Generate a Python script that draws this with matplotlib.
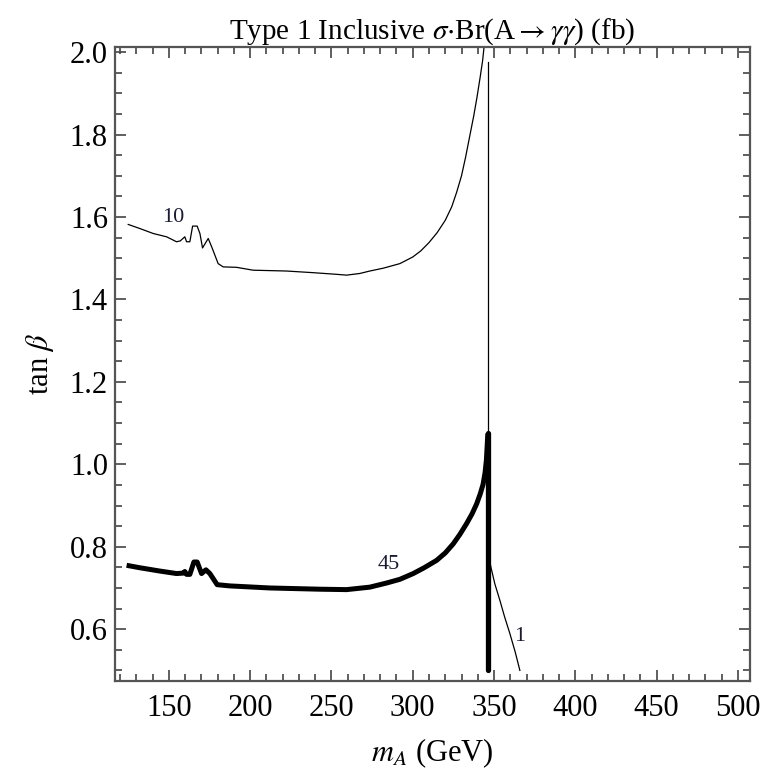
import matplotlib
matplotlib.use("Agg")
import matplotlib.pyplot as plt
from matplotlib.ticker import MultipleLocator

plt.rcParams['font.family'] = ['Liberation Serif', 'DejaVu Serif']
plt.rcParams['mathtext.fontset'] = 'stix'

# contour "10" (thin)
mA_10 = [125.0, 132.2, 140.4, 148.6, 154.7, 157.0, 159.8, 160.9, 162.9, 164.6, 167.4,
         169.1, 170.7, 174.2, 176.3, 180.3, 183.4, 191.6, 201.8, 222.3, 238.7, 253.1,
         259.3, 267.4, 273.6, 282.0, 292.1, 300.0, 305.0, 310.0, 315.0, 320.0, 324.0,
         327.0, 330.0, 332.5, 335.0, 337.5, 339.5, 341.5, 343.0, 343.8]
tb_10 = [1.582, 1.572, 1.560, 1.552, 1.540, 1.542, 1.552, 1.540, 1.540, 1.578, 1.578,
         1.560, 1.525, 1.548, 1.528, 1.487, 1.479, 1.478, 1.471, 1.469, 1.465, 1.461,
         1.459, 1.463, 1.469, 1.476, 1.487, 1.503, 1.518, 1.538, 1.562, 1.592, 1.625,
         1.660, 1.700, 1.745, 1.795, 1.845, 1.890, 1.940, 1.980, 2.010]

# contour "45" (thick)
mA_45 = [124.0, 132.2, 144.5, 154.7, 158.8, 159.8, 160.9, 162.9, 165.4, 167.4, 170.1,
         172.8, 175.2, 179.7, 187.5, 212.1, 242.9, 259.3, 273.6, 283.9, 292.1, 300.3,
         307.0, 314.7, 320.0, 324.9, 329.0, 333.1, 336.5, 339.3, 341.5, 343.3, 344.5,
         345.3, 346.2]
tb_45 = [0.755, 0.749, 0.741, 0.735, 0.736, 0.740, 0.733, 0.733, 0.763, 0.763, 0.735,
         0.744, 0.735, 0.708, 0.705, 0.700, 0.697, 0.696, 0.702, 0.712, 0.721, 0.735,
         0.749, 0.767, 0.785, 0.807, 0.830, 0.856, 0.880, 0.904, 0.928, 0.952, 0.980,
         1.010, 1.075]
mA_45v = [346.2, 346.2]
tb_45v = [1.075, 0.500]

# contour "1" (thin)
mA_1v = [346.0, 346.0]
tb_1v = [1.975, 0.500]
mA_1 = [346.0, 348.0, 350.5, 353.6, 356.5, 359.7, 363.0, 365.9]
tb_1 = [0.800, 0.752, 0.710, 0.670, 0.630, 0.590, 0.545, 0.500]

fig = plt.figure(figsize=(7.66, 7.74), dpi=100)
ax = fig.add_axes([0.150, 0.120, 0.829, 0.819])

ax.plot(mA_10, tb_10, color='black', lw=0.9)
ax.plot(mA_1v, tb_1v, color='black', lw=0.9)
ax.plot(mA_1, tb_1, color='black', lw=0.9)
ax.plot(mA_45, tb_45, color='black', lw=3.6, solid_capstyle='butt',
        solid_joinstyle='round')
ax.plot(mA_45v, tb_45v, color='black', lw=3.8, solid_capstyle='round')

lab_col = '#1a1a33'
ax.text(152.5, 1.600, '10', fontsize=16, color=lab_col, ha='center', va='center')
ax.text(285.5, 0.757, '45', fontsize=16, color=lab_col, ha='center', va='center')
ax.text(365.5, 0.582, '1', fontsize=16, color=lab_col, ha='center', va='center')

ax.set_xlim(116.8, 507.4)
ax.set_ylim(0.474, 2.012)
ax.xaxis.set_major_locator(MultipleLocator(50))
ax.xaxis.set_minor_locator(MultipleLocator(10))
ax.yaxis.set_major_locator(MultipleLocator(0.2))
ax.yaxis.set_minor_locator(MultipleLocator(0.05))
ax.yaxis.set_major_formatter(plt.FormatStrFormatter('%.1f'))

ax.tick_params(which='both', direction='in', top=True, right=True,
               color='#444444', width=1.2, labelsize=22)
ax.tick_params(which='major', length=8, pad=9)
ax.tick_params(which='minor', length=5)
ax.tick_params(axis='y', pad=5)
for s in ax.spines.values():
    s.set_color('#555555')
    s.set_linewidth(1.6)

ax.set_title(r'Type 1 Inclusive $\sigma$$\cdot$Br(A$\rightarrow\gamma\gamma$) (fb)',
             fontsize=21, pad=6)
ax.set_xlabel(r'$m_A$ (GeV)', fontsize=22, labelpad=10)
ax.set_ylabel(r'tan $\beta$', fontsize=22, labelpad=10)

fig.savefig('out.png', dpi=100)
